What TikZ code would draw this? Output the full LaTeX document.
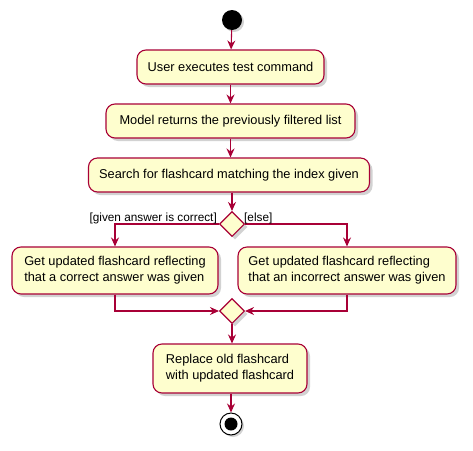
\documentclass[tikz,border=0pt]{standalone}
\usepackage{fontspec}
\setmainfont{Liberation Sans}
\usetikzlibrary{shapes.geometric,arrows.meta,shadows}
\definecolor{pfill}{HTML}{FEFECE}
\definecolor{pline}{HTML}{A80036}
\begin{document}
\begin{tikzpicture}[x=1pt,y=-1pt,
  act/.style={draw=pline,fill=pfill,line width=1.1pt,rounded corners=9pt,inner sep=0pt,
     font=\fontsize{12.8}{16}\selectfont,align=left,
     drop shadow={shadow xshift=3pt,shadow yshift=-3pt,fill=black!35,opacity=0.5}},
  dec/.style={diamond,draw=pline,fill=pfill,line width=1.1pt,inner sep=0pt,minimum width=25pt,minimum height=25pt,
     drop shadow={shadow xshift=3pt,shadow yshift=-3pt,fill=black!35,opacity=0.5}},
  flow/.style={draw=pline,line width=1.1pt,-{Stealth[length=9pt,width=8pt,inset=3pt]}},
  lbl/.style={font=\fontsize{11.8}{13}\selectfont,inner sep=0pt}]
\useasboundingbox (0,0) rectangle (473,450);
\node[circle,fill=black,minimum size=20pt,inner sep=0pt,
   drop shadow={shadow xshift=2pt,shadow yshift=-2pt,fill=black!35,opacity=0.5}] (start) at (232,20) {};
\node[act,minimum width=187pt,minimum height=34pt] (a1) at (230.5,67) {User executes test command};
\node[act,minimum width=249pt,minimum height=34pt] (a2) at (230.5,121) {Model returns the previously filtered list};
\node[act,minimum width=281pt,minimum height=34pt] (a3) at (229,175) {Search for flashcard matching the index given};
\node[dec] (d1) at (232,224) {};
\node[act,minimum width=206pt,minimum height=47pt] (al) at (115,270.5) {Get updated flashcard reflecting\\that a correct answer was given};
\node[act,minimum width=218pt,minimum height=47pt] (ar) at (347,270.5) {Get updated flashcard reflecting\\that an incorrect answer was given};
\node[dec] (d2) at (232,311) {};
\node[act,minimum width=154pt,minimum height=49pt] (a4) at (230,368.5) {Replace old flashcard\\with updated flashcard};
\node[circle,draw=black,fill=white,line width=1pt,minimum size=22pt,inner sep=0pt,
   drop shadow={shadow xshift=2pt,shadow yshift=-2pt,fill=black!35,opacity=0.5}] (stop) at (231,424) {};
\node[circle,fill=black,minimum size=13pt,inner sep=0pt] (stopin) at (stop) {};
\draw[flow] (start) -- (a1);
\draw[flow] (a1) -- (a2);
\draw[flow] (a2) -- (a3.north -| a2.south);
\draw[flow] (a3.south -| d1) -- (d1);
\draw[flow] (d1.west) -| (al.north);
\draw[flow] (d1.east) -| (ar.north);
\draw[flow] (al.south) |- (d2.west);
\draw[flow] (ar.south) |- (d2.east);
\draw[flow] (d2) -- (a4.north -| d2);
\draw[flow] (a4.south -| stop) -- (stop);
\node[lbl,anchor=base east] (l1) at (217,221) {[given answer is correct]};
\node[lbl,anchor=base west] (l2) at (244,221) {[else]};
\end{tikzpicture}
\end{document}
